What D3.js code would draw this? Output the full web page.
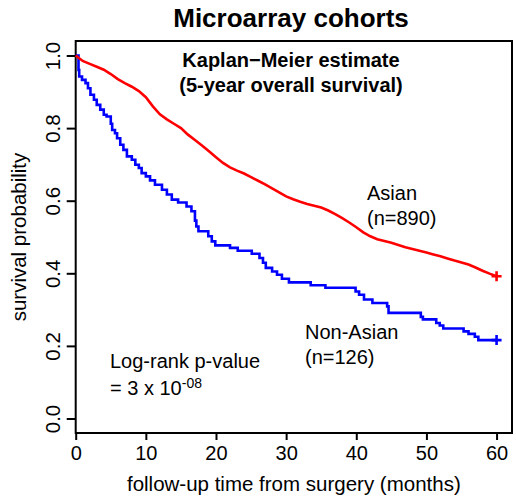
<!DOCTYPE html>
<html>
<head>
<meta charset="utf-8">
<script src="https://cdn.jsdelivr.net/npm/d3@7"></script>
<style>
  body { margin: 0; background: #fff; }
  text { font-family: "Liberation Sans", Arial, sans-serif; fill: #000; }
</style>
</head>
<body>
<svg id="km" width="516" height="496"></svg>
<script>
// Asian cohort (n=890): time (months) and survival
const asianTime = [0,1,2,3,4,5,6,7,8,9,10,11,12,13,14,15,16,17,18,19,20,21,22,23,24,25,26,27,28,29,30,
  31,32,33,34,35,36,37,38,39,40,41,42,43,44,45,46,47,48,49,50,51,52,53,54,55,56,57,58,59,60];
const asianSurv = [1.000,0.985,0.977,0.969,0.961,0.949,0.935,0.924,0.914,0.902,0.885,0.860,0.838,0.824,0.812,
  0.800,0.782,0.767,0.752,0.736,0.720,0.704,0.692,0.683,0.675,0.665,0.655,0.645,0.634,0.623,0.612,
  0.604,0.597,0.591,0.586,0.581,0.573,0.563,0.552,0.540,0.527,0.513,0.502,0.494,0.489,0.484,0.478,
  0.472,0.467,0.462,0.457,0.452,0.447,0.441,0.435,0.430,0.424,0.416,0.407,0.399,0.392];

// Non-Asian cohort (n=126): event times and survival after each step
const nonAsianTime = [0,0.4,0.5,0.9,1.4,1.75,2.1,2.6,3.0,3.5,4.0,4.4,5.0,5.2,5.6,5.9,6.35,6.8,7.3,8.0,8.5,9.0,9.4,
  10.0,10.6,11.3,12.3,13.0,13.7,14.6,15.8,16.5,17.0,17.2,17.5,18.9,19.4,19.9,22.0,23.1,25.1,26.2,26.7,27.1,
  28.0,28.7,29.4,30.4,33.5,35.6,39.9,40.4,41.1,42.3,44.4,44.6,49.2,49.5,51.4,51.9,52.4,55.3,56.0,56.9,57.4,60];
const nonAsianSurv = [1.000,0.960,0.942,0.933,0.924,0.910,0.892,0.878,0.864,0.851,0.837,0.832,0.812,0.795,0.786,
  0.772,0.754,0.740,0.722,0.713,0.699,0.690,0.676,0.667,0.656,0.644,0.630,0.617,0.603,0.595,0.584,0.571,
  0.545,0.529,0.516,0.502,0.488,0.477,0.470,0.462,0.454,0.442,0.429,0.415,0.405,0.396,0.385,0.375,0.367,
  0.360,0.350,0.341,0.328,0.318,0.309,0.291,0.280,0.273,0.263,0.256,0.248,0.240,0.233,0.225,0.216,0.216];

const xTicks = [0,10,20,30,40,50,60];
const yTicks = [0,0.2,0.4,0.6,0.8,1.0];

const svg = d3.select('#km');

const xScale = d3.scaleLinear().domain([0, 62.2]).range([75.7, 512]);
const yScale = d3.scaleLinear().domain([-0.04, 1.04]).range([433, 41]);

const asian = asianTime.map((t, i) => ({t: t, s: asianSurv[i]}));
const nonAsian = nonAsianTime.map((t, i) => ({t: t, s: nonAsianSurv[i]}));

// frame
svg.append('rect')
  .attr('x', xScale(0))
  .attr('y', yScale(1.04))
  .attr('width', xScale(62.2) - xScale(0))
  .attr('height', yScale(-0.04) - yScale(1.04))
  .attr('fill', 'none')
  .attr('stroke', '#000')
  .attr('stroke-width', 2);

// axes
const yAxis = d3.axisLeft(yScale)
  .tickValues(yTicks)
  .tickFormat(d3.format('.1f'))
  .tickSize(9);

const yAxisG = svg.append('g')
  .attr('transform', `translate(${xScale(0)},0)`)
  .call(yAxis);
yAxisG.select('.domain').remove();
yAxisG.selectAll('.tick line').attr('stroke-width', 2);
yAxisG.selectAll('.tick text')
  .attr('x', null)
  .attr('dy', null)
  .attr('transform', 'translate(-16,0) rotate(-90)')
  .attr('text-anchor', 'middle')
  .style('font-size', '20.5px')
  .style('font-family', '"Liberation Sans", Arial, sans-serif');

const xAxis = d3.axisBottom(xScale)
  .tickValues(xTicks)
  .tickSize(7);

const xAxisG = svg.append('g')
  .attr('transform', `translate(0,${yScale(-0.04)})`)
  .call(xAxis);
xAxisG.select('.domain').remove();
xAxisG.selectAll('.tick line').attr('stroke-width', 2);
xAxisG.selectAll('.tick text')
  .attr('y', 27)
  .attr('dy', null)
  .style('font-size', '20px')
  .style('font-family', '"Liberation Sans", Arial, sans-serif');

// axis titles
svg.append('text')
  .attr('x', (xScale(0) + xScale(62.2)) / 2)
  .attr('y', 491)
  .attr('text-anchor', 'middle')
  .style('font-size', '20.5px')
  .text('follow-up time from surgery (months)');

svg.append('text')
  .attr('transform', `translate(26,${(yScale(1.04) + yScale(-0.04)) / 2}) rotate(-90)`)
  .attr('text-anchor', 'middle')
  .style('font-size', '20.5px')
  .text('survival probability');

// title
svg.append('text')
  .attr('x', 291)
  .attr('y', 27)
  .attr('text-anchor', 'middle')
  .style('font-size', '26px')
  .style('font-weight', 'bold')
  .text('Microarray cohorts');

// curves
const stepLine = d3.line()
  .x(d => xScale(d.t))
  .y(d => yScale(d.s))
  .curve(d3.curveStepAfter);

const smoothLine = d3.line()
  .x(d => xScale(d.t))
  .y(d => yScale(d.s));

svg.append('path')
  .datum(nonAsian)
  .attr('d', stepLine)
  .attr('fill', 'none')
  .attr('stroke', '#0000ff')
  .attr('stroke-width', 2.6);

svg.append('path')
  .datum(asian)
  .attr('d', smoothLine)
  .attr('fill', 'none')
  .attr('stroke', '#ff0000')
  .attr('stroke-width', 2.6);

// censor marks at end of follow-up
const ends = [
  {d: asian[asian.length - 1], c: '#ff0000'},
  {d: nonAsian[nonAsian.length - 1], c: '#0000ff'}
];
svg.selectAll('.censor')
  .data(ends)
  .enter()
  .append('path')
    .attr('class', 'censor')
    .attr('d', e => {
      const cx = xScale(e.d.t), cy = yScale(e.d.s);
      return `M${cx - 5},${cy}H${cx + 5}M${cx},${cy - 5}V${cy + 5}`;
    })
    .attr('stroke', e => e.c)
    .attr('stroke-width', 2.6);

// annotations
const note = svg.append('g').style('font-size', '20px');

note.append('text')
  .attr('x', 291).attr('y', 67)
  .attr('text-anchor', 'middle')
  .style('font-weight', 'bold')
  .text('Kaplan\u2212Meier estimate');
note.append('text')
  .attr('x', 291).attr('y', 92)
  .attr('text-anchor', 'middle')
  .style('font-weight', 'bold')
  .text('(5-year overall survival)');

note.append('text').attr('x', 367).attr('y', 200).text('Asian');
note.append('text').attr('x', 367).attr('y', 225).text('(n=890)');
note.append('text').attr('x', 305).attr('y', 339).text('Non-Asian');
note.append('text').attr('x', 305).attr('y', 364).text('(n=126)');

note.append('text').attr('x', 110).attr('y', 368).text('Log-rank p-value');
const pv = note.append('text').attr('x', 110).attr('y', 395);
pv.append('tspan').text('= 3 x 10');
pv.append('tspan')
  .attr('dy', -7)
  .style('font-size', '14px')
  .text('-08');
</script>
</body>
</html>
